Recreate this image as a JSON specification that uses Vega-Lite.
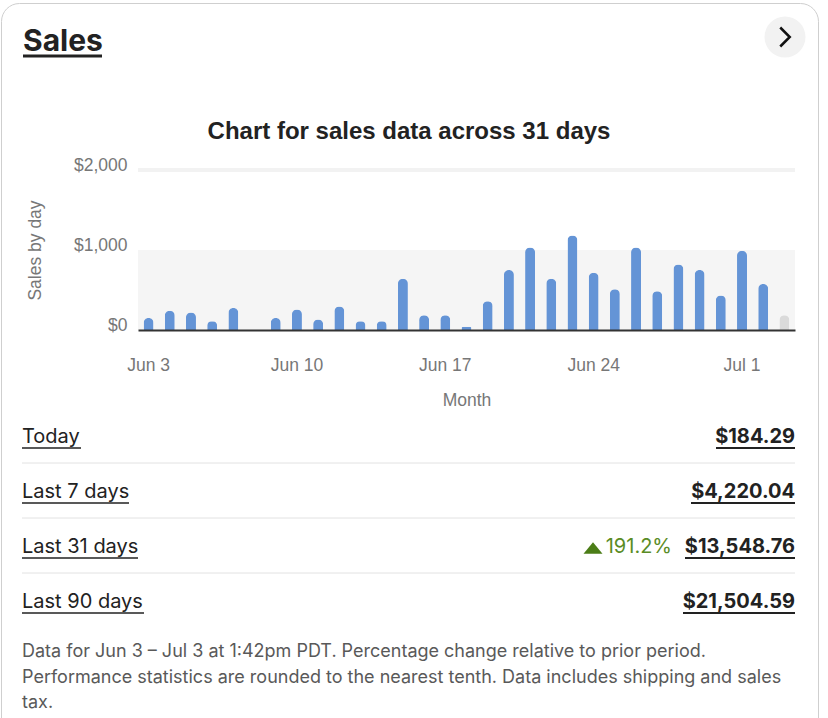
{
  "$schema": "https://vega.github.io/schema/vega-lite/v6.json",
  "description": "Sales card: daily sales for 31 days as bars, with period totals and a footnote.",
  "width": 817,
  "height": 760,
  "autosize": {"type": "none"},
  "padding": {"left": 1, "top": 3, "right": 10, "bottom": 0},
  "background": "#ffffff",
  "view": {"fill": "#ffffff", "stroke": "#cfcfcf", "strokeWidth": 1, "cornerRadius": 18},
  "config": {"font": "Inter", "axis": {"grid": false}},
  "datasets": {
    "daily": [
      {"day": "Jun 3", "sales": 150, "status": "final"},
      {"day": "Jun 4", "sales": 240, "status": "final"},
      {"day": "Jun 5", "sales": 220, "status": "final"},
      {"day": "Jun 6", "sales": 110, "status": "final"},
      {"day": "Jun 7", "sales": 275, "status": "final"},
      {"day": "Jun 8", "sales": 0, "status": "final"},
      {"day": "Jun 9", "sales": 150, "status": "final"},
      {"day": "Jun 10", "sales": 255, "status": "final"},
      {"day": "Jun 11", "sales": 130, "status": "final"},
      {"day": "Jun 12", "sales": 295, "status": "final"},
      {"day": "Jun 13", "sales": 110, "status": "final"},
      {"day": "Jun 14", "sales": 110, "status": "final"},
      {"day": "Jun 15", "sales": 640, "status": "final"},
      {"day": "Jun 16", "sales": 185, "status": "final"},
      {"day": "Jun 17", "sales": 185, "status": "final"},
      {"day": "Jun 18", "sales": 40, "status": "final"},
      {"day": "Jun 19", "sales": 360, "status": "final"},
      {"day": "Jun 20", "sales": 750, "status": "final"},
      {"day": "Jun 21", "sales": 1030, "status": "final"},
      {"day": "Jun 22", "sales": 640, "status": "final"},
      {"day": "Jun 23", "sales": 1180, "status": "final"},
      {"day": "Jun 24", "sales": 715, "status": "final"},
      {"day": "Jun 25", "sales": 510, "status": "final"},
      {"day": "Jun 26", "sales": 1030, "status": "final"},
      {"day": "Jun 27", "sales": 485, "status": "final"},
      {"day": "Jun 28", "sales": 820, "status": "final"},
      {"day": "Jun 29", "sales": 750, "status": "final"},
      {"day": "Jun 30", "sales": 430, "status": "final"},
      {"day": "Jul 1", "sales": 990, "status": "final"},
      {"day": "Jul 2", "sales": 575, "status": "final"},
      {"day": "Jul 3", "sales": 184.29, "status": "partial"}
    ],
    "heading": [
      {"role": "heading", "text": "Sales"},
      {"role": "caption", "text": "Chart for sales data across 31 days"}
    ],
    "periods": [
      {"period": "Today", "total": "$184.29"},
      {"period": "Last 7 days", "total": "$4,220.04"},
      {"period": "Last 31 days", "total": "$13,548.76", "change": "191.2%"},
      {"period": "Last 90 days", "total": "$21,504.59"}
    ],
    "notes": [
      {"line": 1, "text": "Data for Jun 3 – Jul 3 at 1:42pm PDT. Percentage change relative to prior period."},
      {"line": 2, "text": "Performance statistics are rounded to the nearest tenth. Data includes shipping and sales"},
      {"line": 3, "text": "tax."}
    ]
  },
  "layer": [
    {
      "data": {"name": "daily"},
      "encoding": {
        "x": {
          "field": "day",
          "type": "ordinal",
          "title": "Month",
          "scale": {
            "type": "band",
            "domain": ["Jun 3", "Jun 4", "Jun 5", "Jun 6", "Jun 7", "Jun 8", "Jun 9", "Jun 10", "Jun 11", "Jun 12", "Jun 13", "Jun 14", "Jun 15", "Jun 16", "Jun 17", "Jun 18", "Jun 19", "Jun 20", "Jun 21", "Jun 22", "Jun 23", "Jun 24", "Jun 25", "Jun 26", "Jun 27", "Jun 28", "Jun 29", "Jun 30", "Jul 1", "Jul 2", "Jul 3"],
            "range": [137, 794],
            "paddingInner": 0,
            "paddingOuter": 0
          },
          "axis": {
            "orient": "bottom",
            "offset": -433,
            "values": ["Jun 3", "Jun 10", "Jun 17", "Jun 24", "Jul 1"],
            "labelAngle": 0,
            "ticks": false,
            "tickSize": 0,
            "domain": true,
            "domainColor": "#333333",
            "domainWidth": 2,
            "labelFont": "Liberation Sans",
            "labelFontSize": 17.5,
            "labelColor": "#777777",
            "labelBaseline": "middle",
            "labelPadding": 35,
            "titleFont": "Liberation Sans",
            "titleFontSize": 17.5,
            "titleFontWeight": "normal",
            "titleColor": "#777777",
            "titlePadding": 18,
            "zindex": 1
          }
        },
        "y": {
          "field": "sales",
          "type": "quantitative",
          "title": "Sales by day",
          "scale": {"domain": [0, 2000], "range": [327, 167], "nice": false},
          "axis": {
            "orient": "left",
            "offset": -137,
            "values": [0, 1000, 2000],
            "format": "$,.0f",
            "domain": false,
            "ticks": false,
            "tickSize": 0,
            "labelFont": "Liberation Sans",
            "labelFontSize": 17.5,
            "labelColor": "#777777",
            "labelBaseline": "middle",
            "labelPadding": 11,
            "labelOffset": -5,
            "titleFont": "Liberation Sans",
            "titleFontSize": 17.5,
            "titleFontWeight": "normal",
            "titleColor": "#777777",
            "titlePadding": 29
          }
        }
      },
      "layer": [
        {
          "mark": {"type": "rect", "color": "#f5f5f5"},
          "encoding": {
            "x": {"datum": "Jun 3", "bandPosition": 0},
            "x2": {"datum": "Jul 3", "bandPosition": 1},
            "y": {"datum": 0},
            "y2": {"datum": 1000}
          }
        },
        {
          "mark": {"type": "rule", "color": "#f2f2f2", "strokeWidth": 3},
          "encoding": {
            "x": {"datum": "Jun 3", "bandPosition": 0},
            "x2": {"datum": "Jul 3", "bandPosition": 1},
            "y": {"datum": 2000}
          }
        },
        {
          "mark": {"type": "bar", "size": 10, "cornerRadiusTopLeft": 5, "cornerRadiusTopRight": 5},
          "encoding": {
            "color": {
              "field": "status",
              "type": "nominal",
              "scale": {"domain": ["final", "partial"], "range": ["#6494d6", "#dadada"]},
              "legend": null
            }
          }
        }
      ]
    },
    {
      "data": {"name": "heading"},
      "encoding": {
        "x": {
          "datum": "start",
          "type": "nominal",
          "scale": {"type": "point", "domain": ["start", "middle", "end"], "range": [22, 794], "padding": 0},
          "axis": null
        },
        "y": {
          "field": "role",
          "type": "nominal",
          "scale": {"type": "point", "domain": ["heading", "caption"], "range": [48, 136], "padding": 0},
          "axis": null
        }
      },
      "layer": [
        {
          "transform": [{"filter": "datum.role === 'heading'"}],
          "mark": {"type": "text", "align": "left", "baseline": "alphabetic", "fontSize": 30, "fontWeight": "bold", "color": "#222222"},
          "encoding": {"text": {"field": "text"}}
        },
        {
          "transform": [{"filter": "datum.role === 'heading'"}],
          "mark": {"type": "rule", "color": "#222222", "strokeWidth": 3, "yOffset": 5, "strokeDash": [79, 2000], "strokeCap": "butt"},
          "encoding": {"x2": {"datum": "end"}}
        },
        {
          "transform": [{"filter": "datum.role === 'caption'"}],
          "mark": {"type": "text", "align": "center", "baseline": "alphabetic", "font": "Liberation Sans", "fontSize": 24, "fontWeight": "bold", "color": "#222222"},
          "encoding": {"x": {"datum": "middle"}, "text": {"field": "text"}}
        },
        {
          "transform": [{"filter": "datum.role === 'heading'"}],
          "mark": {"type": "point", "shape": "circle", "filled": true, "size": 1681, "color": "#f2f2f2", "opacity": 1, "xOffset": -10, "yOffset": -14},
          "encoding": {"x": {"datum": "end"}}
        },
        {
          "transform": [{"filter": "datum.role === 'heading'"}],
          "mark": {"type": "point", "shape": "M-0.25,-0.5L0.25,0L-0.25,0.5", "filled": false, "size": 1444, "color": "#111111", "strokeWidth": 2.5, "opacity": 1, "xOffset": -10, "yOffset": -14},
          "encoding": {"x": {"datum": "end"}}
        }
      ]
    },
    {
      "data": {"name": "periods"},
      "encoding": {
        "x": {
          "datum": "label",
          "type": "nominal",
          "scale": {"type": "point", "domain": ["label", "amount"], "range": [21, 794], "padding": 0},
          "axis": null
        },
        "y": {
          "field": "period",
          "type": "nominal",
          "scale": {"type": "point", "domain": ["Today", "Last 7 days", "Last 31 days", "Last 90 days"], "range": [434, 599], "padding": 0},
          "axis": null
        }
      },
      "layer": [
        {
          "transform": [{"filter": "datum.period !== 'Last 90 days'"}],
          "mark": {"type": "rule", "color": "#e2e2e2", "strokeWidth": 1, "yOffset": 26},
          "encoding": {"x2": {"datum": "amount"}}
        },
        {
          "mark": {"type": "text", "align": "left", "baseline": "middle", "fontSize": 20, "color": "#222222"},
          "encoding": {"text": {"field": "period"}}
        },
        {
          "mark": {"type": "rule", "color": "#222222", "strokeWidth": 1.5, "yOffset": 11, "strokeCap": "butt"},
          "encoding": {
            "x2": {"datum": "amount"},
            "strokeDash": {
              "field": "period",
              "type": "nominal",
              "scale": {"domain": ["Today", "Last 7 days", "Last 31 days", "Last 90 days"], "range": [[59, 2000], [107, 2000], [116, 2000], [122, 2000]]},
              "legend": null
            }
          }
        },
        {
          "mark": {"type": "text", "align": "right", "baseline": "middle", "fontSize": 20, "fontWeight": "bold", "color": "#222222"},
          "encoding": {"x": {"datum": "amount"}, "text": {"field": "total"}}
        },
        {
          "mark": {"type": "rule", "color": "#222222", "strokeWidth": 2, "yOffset": 11, "strokeCap": "butt"},
          "encoding": {
            "x": {"datum": "amount"},
            "x2": {"datum": "label"},
            "strokeDash": {
              "field": "period",
              "type": "nominal",
              "scale": {"domain": ["Today", "Last 7 days", "Last 31 days", "Last 90 days"], "range": [[79, 2000], [104, 2000], [110, 2000], [112, 2000]]},
              "legend": null
            }
          }
        },
        {
          "transform": [{"filter": "datum.change != null"}],
          "mark": {"type": "text", "align": "right", "baseline": "middle", "fontSize": 20, "color": "#5a8c25", "xOffset": -123},
          "encoding": {"x": {"datum": "amount"}, "text": {"field": "change"}}
        },
        {
          "transform": [{"filter": "datum.change != null"}],
          "mark": {"type": "point", "shape": "M-1,0.6L1,0.6L0,-0.6Z", "filled": true, "size": 361, "color": "#4b7d17", "opacity": 1, "xOffset": -202, "yOffset": 1},
          "encoding": {"x": {"datum": "amount"}}
        }
      ],
      "resolve": {"scale": {"strokeDash": "independent"}}
    },
    {
      "data": {"name": "notes"},
      "mark": {"type": "text", "align": "left", "baseline": "middle", "fontSize": 18, "color": "#595959"},
      "encoding": {
        "x": {
          "datum": "left",
          "type": "nominal",
          "scale": {"type": "point", "domain": ["left", "right"], "range": [21, 794], "padding": 0},
          "axis": null
        },
        "y": {
          "field": "line",
          "type": "ordinal",
          "scale": {"type": "point", "range": [649, 700], "padding": 0},
          "axis": null
        },
        "text": {"field": "text"}
      }
    }
  ],
  "resolve": {"scale": {"x": "independent", "y": "independent", "color": "independent", "strokeDash": "independent"}}
}
